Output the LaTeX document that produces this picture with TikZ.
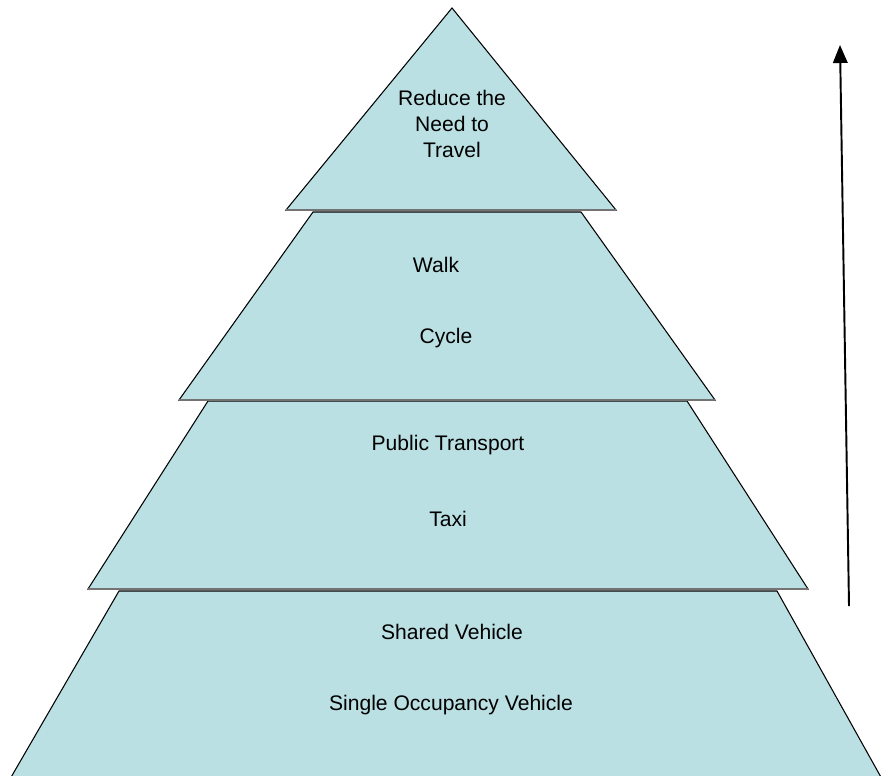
\documentclass[tikz,border=0pt]{standalone}
\usepackage{fontspec}
\setmainfont{Liberation Sans}
\usetikzlibrary{arrows.meta}
\definecolor{layerfill}{RGB}{186,224,227}
\tikzset{
  layer/.style={fill=layerfill,draw=black,line width=0.6pt,line join=miter},
  baseline/.style={draw=black!55,line width=1.2pt},
  label/.style={font=\fontsize{12}{14.7}\selectfont,align=center,inner sep=0pt},
  uparrow/.style={-{Triangle[length=3.6mm,width=2.9mm]},line width=1.1pt}
}

\begin{document}
\begin{tikzpicture}[x=0.02cm,y=-0.02cm]
    \useasboundingbox (0,0) rectangle (881,776);
    % layers, bottom first
    \path[layer] (119,591)--(777,591)--(882,779)--(10,779)--cycle;
    \path[layer] (208,401)--(687,401)--(808,589)--(88,589)--cycle;
    \draw[baseline] (88,589)--(808,589);
    \path[layer] (313,212)--(581,212)--(715,400)--(179,400)--cycle;
    \draw[baseline] (179,400)--(715,400);
    \path[layer] (452,8)--(616,210)--(286,210)--cycle;
    \draw[baseline] (286,210)--(616,210);
    \node[label] (travel) at (452,124) {Reduce the\\Need to\\Travel};
    \node[label] (walk) at (436,265) {Walk};
    \node[label] (cycle) at (446,338) {Cycle};
    \node[label] (pt) at (448,445) {Public Transport};
    \node[label] (taxi) at (448,519) {Taxi};
    \node[label] (shared) at (452,632) {Shared Vehicle};
    \node[label] (single) at (451,705) {Single Occupancy Vehicle};
    \coordinate (low) at (849,606);
    \coordinate (high) at (840,45);
    \draw[uparrow] (low)--(high);
  \end{tikzpicture}
\end{document}
